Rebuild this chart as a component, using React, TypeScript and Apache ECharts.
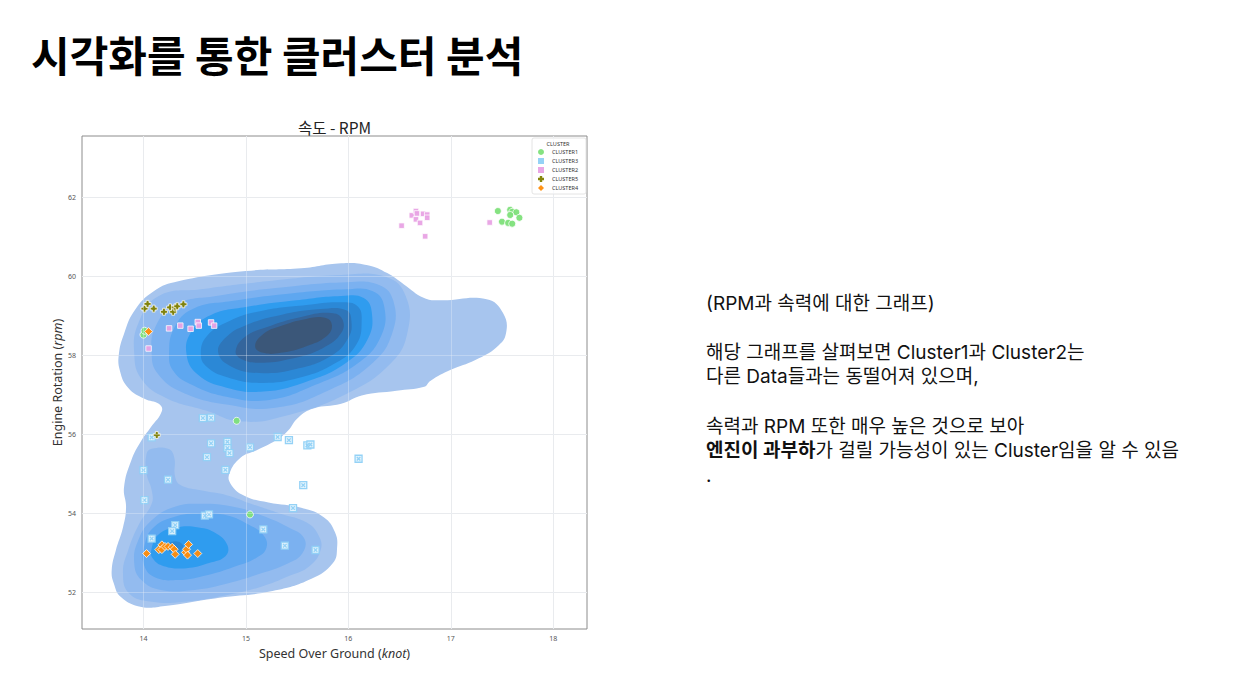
import React, { useEffect, useRef } from 'react';
import * as echarts from 'echarts';

// ---- axes ----
const X_TICKS = [14, 15, 16, 17, 18];
const Y_TICKS = [52, 54, 56, 58, 60, 62];
const X_RANGE = [13.4, 18.33];
const Y_RANGE = [51.07, 63.55];

// ---- scatter clusters (Speed knot, RPM) ----
const LEGEND_ORDER = ['CLUSTER1', 'CLUSTER3', 'CLUSTER2', 'CLUSTER5', 'CLUSTER4'];
const CLUSTER1 = [
  [17.46, 61.65], [17.58, 61.68], [17.6, 61.63], [17.64, 61.62], [17.58, 61.55], [17.67, 61.48],
  [17.5, 61.38], [17.56, 61.35], [17.6, 61.33], [14.91, 56.34], [15.04, 53.97], [14.0, 58.52], [14.01, 58.62],
];
const CLUSTER3 = [
  [14.58, 56.41], [14.66, 56.42], [14.08, 55.92], [14.66, 55.77], [14.82, 55.81], [14.82, 55.65],
  [15.04, 55.67], [14.84, 55.52], [14.62, 55.42], [14.0, 55.09], [14.8, 55.1], [14.24, 54.85],
  [14.01, 54.33], [14.6, 53.94], [14.64, 53.97], [14.31, 53.7], [14.28, 53.55], [14.08, 53.36],
  [15.17, 53.59], [15.38, 53.18], [15.68, 53.07], [15.46, 54.13], [15.56, 54.71], [15.31, 55.93],
  [15.42, 55.85], [15.6, 55.72], [15.63, 55.74], [16.1, 55.38],
];
const CLUSTER2 = [
  [16.52, 61.28], [16.62, 61.54], [16.66, 61.65], [16.67, 61.59], [16.66, 61.44], [16.7, 61.35],
  [16.73, 61.58], [16.77, 61.56], [16.77, 61.48], [16.75, 61.01], [17.38, 61.36],
  [14.25, 58.68], [14.36, 58.75], [14.46, 58.67], [14.53, 58.84], [14.54, 58.75], [14.66, 58.83],
  [14.69, 58.75], [14.05, 58.17],
];
const CLUSTER5 = [
  [14.01, 59.18], [14.04, 59.3], [14.1, 59.18], [14.2, 59.1], [14.26, 59.21], [14.29, 59.1],
  [14.31, 59.21], [14.33, 59.24], [14.39, 59.29], [14.13, 55.98],
];
const CLUSTER4 = [
  [14.03, 52.98], [14.15, 53.08], [14.18, 53.2], [14.18, 53.08], [14.21, 53.16], [14.24, 53.16],
  [14.28, 53.14], [14.3, 53.09], [14.31, 52.96], [14.41, 53.01], [14.42, 53.09], [14.44, 53.21],
  [14.43, 52.94], [14.53, 52.98], [14.05, 58.6],
];

// ---- KDE density contours (outlines, data units) ----
const KDE_OUTER = [
  [15.41, 56.09], [15.29, 55.84], [15.1, 55.59], [14.95, 55.41], [14.84, 55.01], [14.85, 54.75],
  [14.98, 54.45], [15.22, 54.27], [15.54, 54.14], [15.76, 53.9], [15.87, 53.52], [15.89, 53.12],
  [15.85, 52.74], [15.64, 52.34], [15.26, 52.03], [14.74, 51.86], [14.21, 51.65], [13.98, 51.63],
  [13.78, 51.88], [13.71, 52.23], [13.69, 52.56], [13.73, 53.06], [13.8, 53.64], [13.83, 54.15],
  [13.81, 54.65], [13.88, 55.33], [13.98, 55.84], [14.07, 56.17], [14.18, 56.59], [14.15, 56.77],
  [14.01, 56.9], [13.85, 57.18], [13.77, 57.61], [13.76, 58.03], [13.81, 58.54], [13.91, 59.12],
  [14.1, 59.62], [14.34, 59.87], [15.0, 60.13], [15.54, 60.2], [15.93, 60.33], [16.19, 60.28],
  [16.38, 60.08], [16.54, 59.8], [16.74, 59.45], [16.9, 59.39], [17.35, 59.42], [17.51, 59.07],
  [17.54, 58.56], [17.45, 58.21], [17.24, 57.88], [17.0, 57.63], [16.8, 57.35], [16.74, 57.2],
  [16.47, 57.1], [16.13, 56.98], [15.93, 56.77], [15.66, 56.65], [15.51, 56.42],
];
const KDE_TOP_2 = [
  [13.91, 58.03], [13.95, 58.81], [14.15, 59.5], [14.56, 59.67], [15.2, 59.87], [15.93, 60.03],
  [16.37, 59.98], [16.56, 59.5], [16.58, 58.61], [16.42, 57.81], [15.98, 57.02], [15.39, 56.47],
  [14.95, 56.32], [14.61, 56.6], [14.22, 56.92], [13.98, 57.4],
];
const KDE_TOP_3 = [
  [14.08, 58.03], [14.12, 58.74], [14.32, 59.29], [14.71, 59.5], [15.29, 59.7], [15.98, 59.85],
  [16.3, 59.78], [16.44, 59.37], [16.43, 58.57], [16.24, 57.81], [15.8, 57.1], [15.29, 56.67],
  [14.81, 56.75], [14.37, 57.07], [14.14, 57.53],
];
const KDE_TOP_4 = [
  [14.25, 58.03], [14.3, 58.69], [14.48, 59.17], [14.86, 59.37], [15.39, 59.55], [15.98, 59.67],
  [16.24, 59.62], [16.35, 59.24], [16.32, 58.49], [16.1, 57.81], [15.68, 57.25], [15.23, 56.87],
  [14.81, 56.95], [14.45, 57.28], [14.29, 57.61],
];
const KDE_TOP_5 = [
  [14.42, 58.03], [14.47, 58.61], [14.66, 59.02], [15.0, 59.22], [15.49, 59.39], [15.93, 59.5],
  [16.15, 59.45], [16.23, 59.07], [16.19, 58.41], [15.98, 57.81], [15.59, 57.33], [15.17, 57.08],
  [14.81, 57.18], [14.53, 57.51],
];
const KDE_TOP_6 = [
  [14.56, 58.03], [14.62, 58.49], [14.84, 58.87], [15.15, 59.12], [15.59, 59.27], [15.93, 59.34],
  [16.09, 59.24], [16.13, 58.87], [16.08, 58.28], [15.88, 57.81], [15.52, 57.43], [15.13, 57.3],
  [14.81, 57.45], [14.62, 57.7],
];
const KDE_TOP_7 = [
  [14.73, 58.06], [14.8, 58.44], [15.0, 58.76], [15.34, 59.02], [15.73, 59.17], [15.98, 59.14],
  [16.03, 58.87], [16.0, 58.44], [15.83, 57.98], [15.49, 57.65], [15.13, 57.55], [14.86, 57.71],
];
const KDE_TOP_8 = [
  [14.9, 58.11], [14.99, 58.46], [15.2, 58.71], [15.54, 58.97], [15.83, 59.07], [15.94, 58.92],
  [15.93, 58.56], [15.75, 58.18], [15.44, 57.91], [15.13, 57.81], [14.95, 57.91],
];
const KDE_TOP_9 = [
  [15.09, 58.23], [15.17, 58.54], [15.34, 58.74], [15.59, 58.92], [15.78, 58.94], [15.84, 58.76],
  [15.79, 58.49], [15.59, 58.23], [15.34, 58.06], [15.17, 58.06],
];
const KDE_BOT_2 = [
  [14.03, 55.5], [14.08, 55.63], [14.24, 55.63], [14.3, 55.42], [14.31, 54.91], [14.37, 54.7],
  [14.56, 54.58], [14.82, 54.45], [15.05, 54.24], [15.34, 53.99], [15.59, 53.77], [15.71, 53.44],
  [15.73, 53.07], [15.62, 52.66], [15.42, 52.41], [15.15, 52.14], [14.82, 51.93], [14.4, 51.76],
  [14.08, 51.76], [13.86, 51.97], [13.8, 52.48], [13.85, 53.06], [13.96, 53.74], [14.08, 54.24],
  [14.08, 54.58], [14.03, 55.0],
];
const KDE_BOT_3 = [
  [13.95, 53.32], [14.08, 53.82], [14.3, 54.16], [14.56, 54.24], [14.89, 54.16], [15.15, 53.95],
  [15.41, 53.65], [15.57, 53.36], [15.55, 52.98], [15.41, 52.73], [15.15, 52.48], [14.82, 52.22],
  [14.5, 52.06], [14.17, 52.06], [13.98, 52.31], [13.91, 52.73],
];
const KDE_BOT_4 = [
  [14.01, 53.19], [14.09, 53.62], [14.29, 53.9], [14.56, 54.0], [14.81, 53.95], [15.0, 53.75],
  [15.17, 53.45], [15.2, 53.12], [15.1, 52.87], [14.88, 52.64], [14.63, 52.44], [14.34, 52.31],
  [14.1, 52.39], [14.0, 52.74],
];
const KDE_BOT_5 = [
  [14.08, 53.11], [14.15, 53.47], [14.32, 53.64], [14.54, 53.64], [14.71, 53.49], [14.82, 53.19],
  [14.8, 52.91], [14.64, 52.74], [14.42, 52.61], [14.2, 52.66], [14.09, 52.86],
];
const KDE_BOT_6 = [
  [14.22, 53.16], [14.27, 53.27], [14.35, 53.27], [14.39, 53.14], [14.34, 53.04], [14.25, 53.04],
];

// level index of each contour (0 = outermost)
const KDE_CONTOURS = [
  KDE_OUTER, KDE_TOP_2, KDE_BOT_2, KDE_TOP_3, KDE_BOT_3, KDE_TOP_4, KDE_BOT_4,
  KDE_TOP_5, KDE_BOT_5, KDE_TOP_6, KDE_BOT_6, KDE_TOP_7, KDE_TOP_8, KDE_TOP_9,
];
const KDE_LEVEL = [0, 1, 1, 2, 2, 3, 3, 4, 4, 5, 5, 6, 7, 8];

// ---- text ----
const PAGE_TITLE = '시각화를 통한 클러스터 분석';
const CHART_TITLE = '속도 - RPM';
const LEGEND_TITLE = 'CLUSTER';
const NOTE_LINES = [
  '(RPM과 속력에 대한 그래프)',
  '',
  '해당 그래프를 살펴보면 Cluster1과 Cluster2는',
  '다른 Data들과는 동떨어져 있으며,',
  '',
  '속력과 RPM 또한 매우 높은 것으로 보아',
  '{b|엔진이 과부하}가 걸릴 가능성이 있는 Cluster임을 알 수 있음',
  '.',
];

// ---- styles ----
const LEVEL_COLORS = ['#a7c5ee', '#93bbef', '#7bb1f0', '#5ea7f0', '#2f9cef', '#2b88d6', '#2e76ba', '#34659c', '#3b5779'];
const SYM_X = 'path://M0,2 L2,0 L5,3 L8,0 L10,2 L7,5 L10,8 L8,10 L5,7 L2,10 L0,8 L3,5 Z';
const SYM_P = 'path://M3,0 L7,0 L7,3 L10,3 L10,7 L7,7 L7,10 L3,10 L3,7 L0,7 L0,3 L3,3 Z';
const CLUSTER_STYLE: Record<string, { color: string; symbol: string; size: number }> = {
  CLUSTER1: { color: '#7ee07a', symbol: 'circle', size: 7 },
  CLUSTER3: { color: '#8fd0f5', symbol: 'rect', size: 7 },
  CLUSTER2: { color: '#e8a2e4', symbol: 'rect', size: 5.5 },
  CLUSTER5: { color: '#7f7f00', symbol: SYM_P, size: 7 },
  CLUSTER4: { color: '#ff8c0a', symbol: 'diamond', size: 8 },
};
const CLUSTER_DATA: Record<string, number[][]> = {
  CLUSTER1, CLUSTER3, CLUSTER2, CLUSTER5, CLUSTER4,
};

const GRID = { left: 82, top: 136, width: 505, height: 493 };
const NOTE_X = 706;
const NOTE_Y0 = 303;
const NOTE_LH = 24.6;
const NOTE_SIZE = 19;
const NOTE_FONT = '"Inter", "Noto Sans CJK KR", sans-serif';

export default function App() {
  const ref = useRef<HTMLDivElement>(null);

  useEffect(() => {
    if (!ref.current) return;
    const chart = echarts.init(ref.current, undefined, { renderer: 'svg' });

    const contourSeries = {
      type: 'custom',
      coordinateSystem: 'cartesian2d',
      z: 1,
      silent: true,
      clip: true,
      data: KDE_CONTOURS.map((c) => c[0]),
      renderItem: (params: any, api: any) => {
        const i = params.dataIndex;
        const pts = KDE_CONTOURS[i].map((p) => api.coord(p));
        return {
          type: 'polygon',
          shape: { points: pts, smooth: 0.45 },
          style: { fill: LEVEL_COLORS[KDE_LEVEL[i]], stroke: 'none' },
        };
      },
    };

    const gridOverlay = {
      type: 'scatter',
      name: '_grid',
      z: 2,
      silent: true,
      data: [],
      markLine: {
        silent: true,
        symbol: 'none',
        label: { show: false },
        lineStyle: { color: 'rgba(235,240,248,0.35)', width: 1, type: 'solid' },
        data: [
          ...X_TICKS.map((v) => ({ xAxis: v })),
          ...Y_TICKS.map((v) => ({ yAxis: v })),
        ],
      },
    };

    const scatterSeries: any[] = LEGEND_ORDER.map((name) => {
      const st = CLUSTER_STYLE[name];
      const isX = name === 'CLUSTER3';
      return {
        type: 'scatter',
        name,
        z: 3,
        data: CLUSTER_DATA[name],
        symbol: st.symbol,
        symbolSize: st.size,
        itemStyle: isX
          ? { color: '#e4f4fd', borderColor: st.color, borderWidth: 1.3, opacity: 0.95 }
          : { color: st.color, borderColor: '#ffffff', borderWidth: 0.8, opacity: 0.95 },
      };
    });
    // inner cross of the "X" markers
    scatterSeries.push({
      type: 'scatter',
      name: 'CLUSTER3',
      z: 4,
      silent: true,
      data: CLUSTER3,
      symbol: SYM_X,
      symbolSize: 4.5,
      itemStyle: { color: '#8fd0f5', opacity: 0.95 },
    });

    const noteGraphics = NOTE_LINES.map((line, i) => ({
      type: 'text',
      x: NOTE_X,
      y: NOTE_Y0 + i * NOTE_LH,
      style: {
        text: line,
        fill: '#111111',
        fontSize: NOTE_SIZE,
        fontFamily: NOTE_FONT,
        verticalAlign: 'middle',
        align: 'left',
        rich: {
          b: {
            fontSize: NOTE_SIZE,
            fontWeight: 'bold',
            fontFamily: NOTE_FONT,
            fill: '#111111',
          },
        },
      },
    }));

    const option: any = {
      animation: false,
      backgroundColor: '#ffffff',
      textStyle: { fontFamily: '"Noto Sans", "Noto Sans CJK KR", sans-serif' },
      grid: {
        ...GRID,
        show: true,
        borderColor: '#8c8c8c',
        borderWidth: 1,
        backgroundColor: 'transparent',
        containLabel: false,
      },
      xAxis: {
        type: 'value',
        min: X_RANGE[0],
        max: X_RANGE[1],
        name: 'Speed Over Ground ({i|knot})',
        nameLocation: 'middle',
        nameGap: 11,
        nameTextStyle: {
          fontSize: 12.5,
          color: '#333',
          fontFamily: '"Noto Sans", sans-serif',
          rich: { i: { fontSize: 12.5, fontStyle: 'italic', color: '#333', fontFamily: '"Noto Sans", sans-serif' } },
        },
        axisLine: { show: false },
        axisTick: { show: false, customValues: X_TICKS },
        axisLabel: { customValues: X_TICKS, fontSize: 7, color: '#555', margin: 6 },
        splitLine: { show: true, lineStyle: { color: '#e9e9e9', width: 1 } },
      },
      yAxis: {
        type: 'value',
        min: Y_RANGE[0],
        max: Y_RANGE[1],
        name: 'Engine Rotation ({i|rpm})',
        nameLocation: 'middle',
        nameGap: 18,
        nameRotate: 90,
        nameTextStyle: {
          fontSize: 12.5,
          color: '#333',
          fontFamily: '"Noto Sans", sans-serif',
          rich: { i: { fontSize: 12.5, fontStyle: 'italic', color: '#333', fontFamily: '"Noto Sans", sans-serif' } },
        },
        axisLine: { show: false },
        axisTick: { show: false, customValues: Y_TICKS },
        axisLabel: { customValues: Y_TICKS, fontSize: 7, color: '#555', margin: 6 },
        splitLine: { show: true, lineStyle: { color: '#e9e9e9', width: 1 } },
      },
      legend: {
        z: 30,
        data: LEGEND_ORDER.map((name) => ({
          name,
          itemStyle: { color: CLUSTER_STYLE[name].color, borderWidth: 0 },
        })),
        orient: 'vertical',
        left: 538,
        top: 149,
        itemWidth: 6,
        itemHeight: 6,
        itemGap: 3,
        padding: 0,
        textStyle: { fontSize: 5.5, lineHeight: 6, height: 6, color: '#333', padding: [0, 0, 0, 3] },
      },
      graphic: [
        {
          type: 'text',
          x: 31,
          y: 53,
          style: {
            text: PAGE_TITLE,
            fill: '#000000',
            fontSize: 42,
            fontWeight: 'bold',
            fontFamily: '"Noto Sans CJK KR", sans-serif',
            verticalAlign: 'middle',
            align: 'left',
          },
        },
        {
          type: 'text',
          x: GRID.left + GRID.width / 2,
          y: 127,
          style: {
            text: CHART_TITLE,
            fill: '#222222',
            fontSize: 15.5,
            fontFamily: '"Noto Sans CJK KR", "Noto Sans", sans-serif',
            verticalAlign: 'middle',
            align: 'center',
          },
        },
        {
          type: 'rect',
          z: 5,
          shape: { x: 532, y: 138, width: 54, height: 56, r: 2 },
          style: { fill: '#ffffff', stroke: '#dddddd', lineWidth: 0.8 },
        },
        {
          type: 'text',
          z: 6,
          x: 558,
          y: 144,
          style: {
            text: LEGEND_TITLE,
            fill: '#333',
            fontSize: 5.5,
            fontFamily: '"Noto Sans", sans-serif',
            align: 'center',
            verticalAlign: 'middle',
          },
        },
        ...noteGraphics,
      ],
      series: [contourSeries, gridOverlay, ...scatterSeries],
    };

    chart.setOption(option);
    return () => chart.dispose();
  }, []);

  return (
    <div
      ref={ref}
      style={{ position: 'fixed', left: 0, top: 0, width: 1243, height: 684, background: '#fff' }}
    />
  );
}
